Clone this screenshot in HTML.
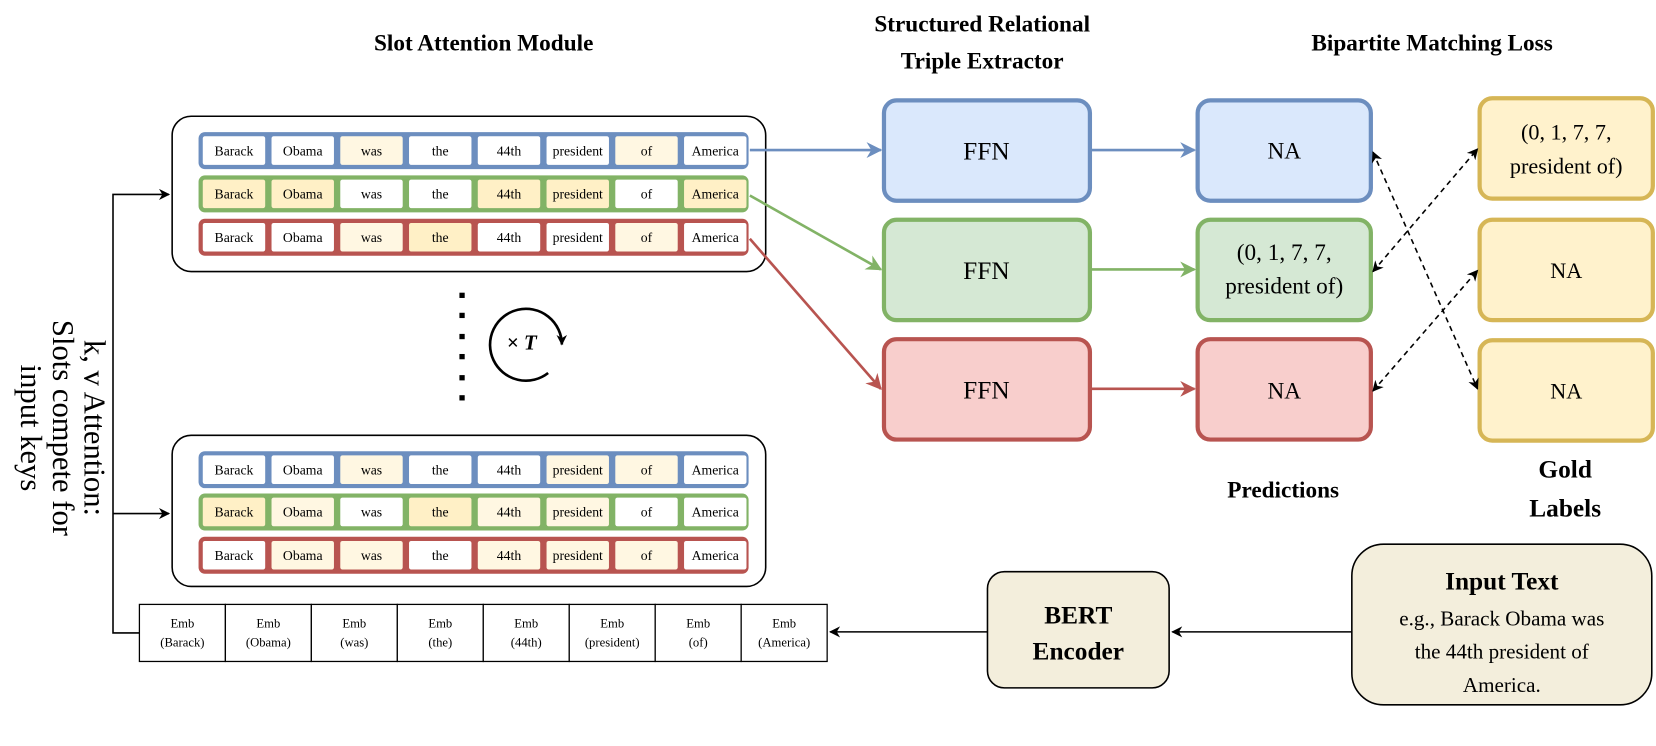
<!DOCTYPE html>
<html><head><meta charset="utf-8"><style>html,body{margin:0;padding:0;background:#fff}svg{display:block}</style></head>
<body>
<svg width="1656" height="746" viewBox="0 0 1568 706" preserveAspectRatio="none" xmlns="http://www.w3.org/2000/svg" font-family="'Liberation Serif', serif">
<defs>
<marker id="ak" viewBox="0 0 10 10" refX="9" refY="5" markerWidth="7" markerHeight="7" orient="auto-start-reverse"><path d="M0,0 L10,5 L0,10 L3,5z" fill="#000"/></marker>
<marker id="ak2" viewBox="0 0 10 10" refX="9" refY="5" markerWidth="4" markerHeight="4" orient="auto"><path d="M0,0 L10,5 L0,10 L3,5z" fill="#000"/></marker>
<marker id="ab" viewBox="0 0 10 10" refX="9" refY="5" markerWidth="6" markerHeight="6" orient="auto"><path d="M0,0 L10,5 L0,10 L3,5z" fill="#6c8ebf"/></marker>
<marker id="ag" viewBox="0 0 10 10" refX="9" refY="5" markerWidth="6" markerHeight="6" orient="auto"><path d="M0,0 L10,5 L0,10 L3,5z" fill="#82b366"/></marker>
<marker id="ar" viewBox="0 0 10 10" refX="9" refY="5" markerWidth="6" markerHeight="6" orient="auto"><path d="M0,0 L10,5 L0,10 L3,5z" fill="#b85450"/></marker>
</defs>

<g font-weight="bold" font-size="22" text-anchor="middle">
<text x="458" y="48">Slot Attention Module</text>
<text x="930" y="30">Structured Relational</text>
<text x="930" y="65">Triple Extractor</text>
<text x="1356" y="48">Bipartite Matching Loss</text>
<text x="1215" y="471">Predictions</text>
<text x="1482" y="452" font-size="24">Gold</text>
<text x="1482" y="489" font-size="24">Labels</text>
</g>

<rect x="163" y="110" width="562" height="147" rx="18" fill="#fff" stroke="#000" stroke-width="1.5"/>
<rect x="163" y="412" width="562" height="143" rx="18" fill="#fff" stroke="#000" stroke-width="1.5"/>

<g id="rows" font-size="13" text-anchor="middle"></g>

<g fill="#000">
<rect x="435" y="277" width="5" height="5"/><rect x="435" y="296" width="5" height="5"/><rect x="435" y="316" width="5" height="5"/><rect x="435" y="335" width="5" height="5"/><rect x="435" y="355" width="5" height="5"/><rect x="435" y="374" width="5" height="5"/>
</g>
<path d="M 519 353 A 34 34 0 1 1 532 326" fill="none" stroke="#000" stroke-width="2.5" marker-end="url(#ak2)"/>
<text x="494" y="331" font-size="20" font-style="italic" font-weight="bold" text-anchor="middle">× T</text>

<path d="M 132 599 H 107 V 184 H 160" fill="none" stroke="#000" stroke-width="1.5" marker-end="url(#ak)"/>
<path d="M 107 486 H 160" fill="none" stroke="#000" stroke-width="1.5" marker-end="url(#ak)"/>
<g font-size="29" text-anchor="middle" transform="translate(50,405) rotate(90)">
<text x="0" y="-30">k, v Attention:</text>
<text x="0" y="0">Slots compete for</text>
<text x="0" y="30">input keys</text>
</g>

<g id="emb" font-size="12" text-anchor="middle"></g>

<rect x="837" y="95" width="195" height="95" rx="12" fill="#dae8fc" stroke="#6c8ebf" stroke-width="4"/>
<rect x="837" y="208" width="195" height="95" rx="12" fill="#d5e8d4" stroke="#82b366" stroke-width="4"/>
<rect x="837" y="321" width="195" height="95" rx="12" fill="#f8cecc" stroke="#b85450" stroke-width="4"/>
<g font-size="24" text-anchor="middle"><text x="934" y="151">FFN</text><text x="934" y="264">FFN</text><text x="934" y="377">FFN</text></g>
<rect x="1134" y="95" width="164" height="95" rx="12" fill="#dae8fc" stroke="#6c8ebf" stroke-width="4"/>
<rect x="1134" y="208" width="164" height="95" rx="12" fill="#d5e8d4" stroke="#82b366" stroke-width="4"/>
<rect x="1134" y="321" width="164" height="95" rx="12" fill="#f8cecc" stroke="#b85450" stroke-width="4"/>
<g font-size="22" text-anchor="middle"><text x="1216" y="150">NA</text><text x="1216" y="246">(0, 1, 7, 7,</text><text x="1216" y="278">president of)</text><text x="1216" y="377">NA</text></g>
<rect x="1401" y="93" width="164" height="95" rx="12" fill="#fff2cc" stroke="#d6b656" stroke-width="4"/>
<rect x="1401" y="208" width="164" height="95" rx="12" fill="#fff2cc" stroke="#d6b656" stroke-width="4"/>
<rect x="1401" y="322" width="164" height="95" rx="12" fill="#fff2cc" stroke="#d6b656" stroke-width="4"/>
<g font-size="21" text-anchor="middle"><text x="1483" y="132">(0, 1, 7, 7,</text><text x="1483" y="164">president of)</text><text x="1483" y="263">NA</text><text x="1483" y="377">NA</text></g>

<g stroke-width="2.5" fill="none">
<path d="M 710 142 H 834" stroke="#6c8ebf" marker-end="url(#ab)"/>
<path d="M 710 185 L 834 255" stroke="#82b366" marker-end="url(#ag)"/>
<path d="M 710 226 L 834 368" stroke="#b85450" marker-end="url(#ar)"/>
<path d="M 1032 142 H 1131" stroke="#6c8ebf" marker-end="url(#ab)"/>
<path d="M 1032 255 H 1131" stroke="#82b366" marker-end="url(#ag)"/>
<path d="M 1032 368 H 1131" stroke="#b85450" marker-end="url(#ar)"/>
</g>
<g stroke="#000" stroke-width="1.5" stroke-dasharray="5,4" fill="none">
<path d="M 1300 144 L 1399 368" marker-start="url(#ak)" marker-end="url(#ak)"/>
<path d="M 1300 257 L 1399 141" marker-start="url(#ak)" marker-end="url(#ak)"/>
<path d="M 1300 370 L 1399 256" marker-start="url(#ak)" marker-end="url(#ak)"/>
</g>

<rect x="935" y="541" width="172" height="110" rx="16" fill="#f3eedc" stroke="#000" stroke-width="1.5"/>
<g font-size="24" font-weight="bold" text-anchor="middle"><text x="1021" y="590">BERT</text><text x="1021" y="624">Encoder</text></g>
<rect x="1280" y="515" width="284" height="152" rx="30" fill="#f3eedc" stroke="#000" stroke-width="1.5"/>
<text x="1422" y="558" font-size="24" font-weight="bold" text-anchor="middle">Input Text</text>
<g font-size="20" text-anchor="middle"><text x="1422" y="592">e.g., Barack Obama was</text><text x="1422" y="623">the 44th president of</text><text x="1422" y="655">America.</text></g>
<path d="M 1280 598 H 1110" stroke="#000" stroke-width="1.5" marker-end="url(#ak)"/>
<path d="M 935 598 H 786" stroke="#000" stroke-width="1.5" marker-end="url(#ak)"/>

<script>
(function(){
var ns="http://www.w3.org/2000/svg";
var words=["Barack","Obama","was","the","44th","president","of","America"];
var cols={b:"#6c8ebf",g:"#82b366",r:"#b85450"};
var fills=["#ffffff","#fff7e2","#fff0c6"];
var rows=[
 [125,"b",[0,0,1,0,0,0,1,0]],
 [166,"g",[2,2,0,0,2,2,0,2]],
 [207,"r",[0,0,1,2,0,0,1,0]],
 [427,"b",[0,0,1,0,0,1,1,0]],
 [467,"g",[2,1,0,2,1,1,0,0]],
 [508,"r",[0,1,1,0,1,1,1,0]]
];
var g=document.getElementById("rows");
function el(t,a){var e=document.createElementNS(ns,t);for(var k in a)e.setAttribute(k,a[k]);return e;}
var w=65.1,x0=188;
rows.forEach(function(r){
 var y=r[0];
 g.appendChild(el("rect",{x:x0,y:y,width:8*w,height:35,rx:6,fill:cols[r[1]]}));
 for(var i=0;i<8;i++){
  g.appendChild(el("rect",{x:x0+i*w+4,y:y+4,width:w-6,height:27,rx:2,fill:fills[r[2][i]]}));
  var t=el("text",{x:x0+i*w+w/2+1,y:y+22});t.textContent=words[i];g.appendChild(t);
 }
});
var e=document.getElementById("emb");
var ex=132,ew=81.4,ey=572,eh=54;
for(var i=0;i<8;i++){
 e.appendChild(el("rect",{x:ex+i*ew,y:ey,width:ew,height:eh,fill:"#fff",stroke:"#000","stroke-width":1.2}));
 var a=el("text",{x:ex+i*ew+ew/2,y:ey+22});a.textContent="Emb";e.appendChild(a);
 var b=el("text",{x:ex+i*ew+ew/2,y:ey+40});b.textContent="("+words[i]+")";e.appendChild(b);
}
})();
</script>
</svg>
</body></html>
